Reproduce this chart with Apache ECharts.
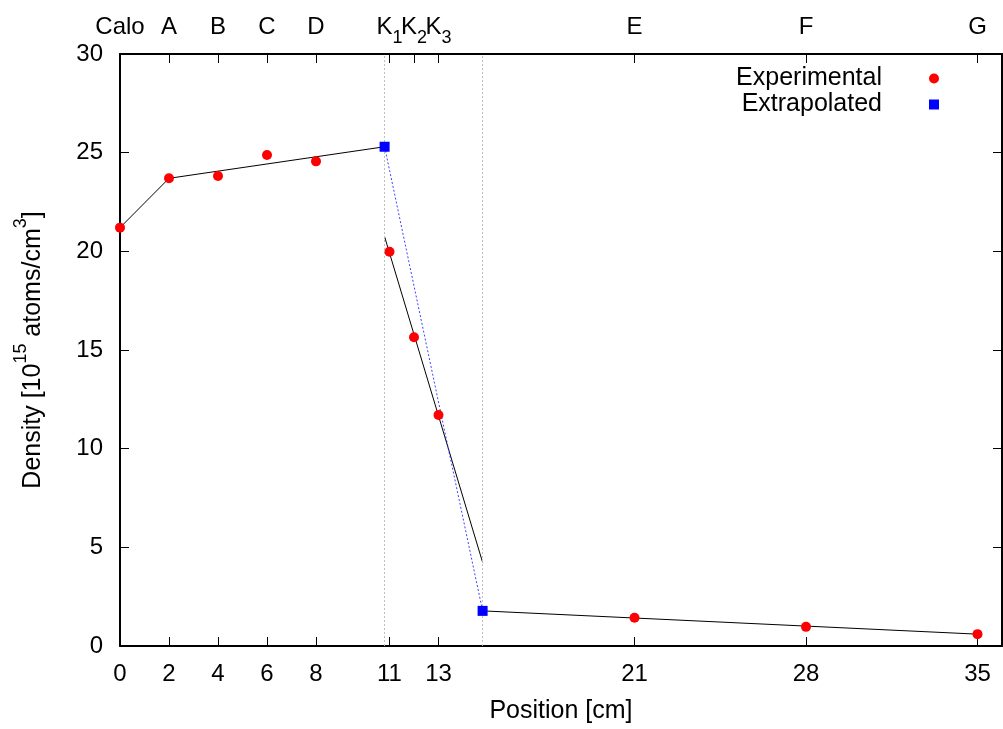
<!DOCTYPE html>
<html><head><meta charset="utf-8">
<script src="https://cdn.jsdelivr.net/npm/echarts@6/dist/echarts.min.js"></script>
<style>html,body{margin:0;padding:0;background:#fff}#c{width:1003px;height:729px}</style>
</head><body><div id="c"></div>
<script>
// ---- data ----
const expX = [0, 2, 4, 6, 8, 11, 12, 13, 21, 28, 35];
const expY = [21.2, 23.7, 23.82, 24.88, 24.56, 19.98, 15.65, 11.71, 1.43, 0.97, 0.6];
const extX = [10.8, 14.8];
const extY = [25.3, 1.78];
const upFitX = [0, 2, 10.8];
const upFitY = [21.2, 23.7, 25.3];
const kFitX = [10.8, 14.8];
const kFitY = [20.74, 4.24];
const downFitX = [14.8, 35];
const downFitY = [1.78, 0.6];
const guideX = [10.8, 14.8];
const bottomTicks = [0, 2, 4, 6, 8, 11, 13, 21, 28, 35];
const topTickValues = [0, 2, 4, 6, 8, 11, 12, 13, 21, 28, 35];
const topTickLabels = ['Calo', 'A', 'B', 'C', 'D', 'K_1', 'K_2', 'K_3', 'E', 'F', 'G'];
const topTickMarks = [2, 4, 6, 8, 11, 12, 13, 21, 28, 35];

const FONT = "'Liberation Sans', Arial, sans-serif";
const FS = 24;   // tick labels
const FT = 25;   // titles, legend
const pairs = (xs, ys) => xs.map((x, i) => [x, ys[i]]);

const chart = echarts.init(document.getElementById('c'), null, {renderer: 'canvas'});
const axisLine = {show: true, onZero: false, lineStyle: {color: '#000', width: 2}};
const tick = {show: true, inside: true, length: 9, lineStyle: {color: '#000', width: 1}};

chart.setOption({
  animation: false,
  backgroundColor: '#fff',
  textStyle: {fontFamily: FONT},
  grid: {left: 120, right: 1, top: 54, bottom: 80, containLabel: false},
  legend: [
    {data: [{name: 'Experimental', icon: 'circle'}], right: 64, top: 66, padding: 0,
     align: 'right', itemWidth: 10, itemHeight: 10, selectedMode: false,
     textStyle: {fontSize: FT, color: '#000', fontFamily: FONT, padding: [0, 42, 0, 0]}},
    {data: [{name: 'Extrapolated', icon: 'path://M0,0L10,0L10,10L0,10Z'}], right: 64, top: 92, padding: 0,
     align: 'right', itemWidth: 10, itemHeight: 10, selectedMode: false,
     textStyle: {fontSize: FT, color: '#000', fontFamily: FONT, padding: [0, 42, 0, 0]}}
  ],
  xAxis: [
    {type: 'value', position: 'bottom', min: 0, max: 36,
     name: 'Position [cm]', nameLocation: 'middle', nameGap: 53,
     nameTextStyle: {fontSize: FT, color: '#000', fontFamily: FONT},
     axisLine: axisLine,
     axisTick: Object.assign({customValues: bottomTicks}, tick),
     axisLabel: {customValues: bottomTicks, fontSize: FS, color: '#000', margin: 16, fontFamily: FONT},
     splitLine: {show: false}},
    {type: 'value', position: 'top', min: 0, max: 36,
     axisLine: axisLine,
     axisTick: Object.assign({customValues: topTickMarks}, tick),
     axisLabel: {customValues: topTickValues, margin: 7, color: '#000',
       formatter: function (v) {
         const idx = topTickValues.indexOf(v);
         const lab = idx >= 0 ? topTickLabels[idx] : '';
         const parts = lab.split('_');
         return parts.length > 1 ? '{n|' + parts[0] + '}{s|' + parts[1] + '}' : '{n|' + lab + '}';
       },
       rich: {
         n: {fontSize: FS, fontFamily: FONT, color: '#000', lineHeight: 40, verticalAlign: 'middle'},
         s: {fontSize: 18, fontFamily: FONT, color: '#000', lineHeight: 18, padding: [22, 0, 0, 0], verticalAlign: 'bottom'}
       }},
     splitLine: {show: false}}
  ],
  yAxis: [
    {type: 'value', position: 'left', min: 0, max: 30, interval: 5,
     name: '{n|Density [10}{s|15}{n| atoms/cm}{s|3}{n|]}', nameLocation: 'middle', nameGap: 65, nameRotate: 90,
     nameTextStyle: {rich: {
       n: {fontSize: FT, fontFamily: FONT, color: '#000', lineHeight: 43, verticalAlign: 'middle'},
       s: {fontSize: 18, fontFamily: FONT, color: '#000', lineHeight: 18, padding: [0, 0, 25, 0], verticalAlign: 'top'}
     }},
     axisLine: axisLine, axisTick: tick,
     axisLabel: {fontSize: FS, color: '#000', margin: 17, fontFamily: FONT},
     splitLine: {show: false}},
    {type: 'value', position: 'right', min: 0, max: 30, interval: 5,
     axisLine: axisLine, axisTick: tick, axisLabel: {show: false}, splitLine: {show: false}}
  ],
  series: [
    {name: 'guides', type: 'line', data: [], symbol: 'none', silent: true,
     markLine: {symbol: 'none', silent: true, label: {show: false},
       lineStyle: {color: '#bdbdbd', type: [2, 2], width: 1},
       data: guideX.map(v => ({xAxis: v}))}},
    {name: 'fitUp', type: 'line', data: pairs(upFitX, upFitY), symbol: 'none', silent: true,
     lineStyle: {color: '#000', width: 1}},
    {name: 'fitK', type: 'line', data: pairs(kFitX, kFitY), symbol: 'none', silent: true,
     lineStyle: {color: '#000', width: 1}},
    {name: 'fitDown', type: 'line', data: pairs(downFitX, downFitY), symbol: 'none', silent: true,
     lineStyle: {color: '#000', width: 1}},
    {name: 'extrapLine', type: 'line', data: pairs(extX, extY), symbol: 'none', silent: true,
     lineStyle: {color: 'rgba(30,30,255,0.85)', width: 1, type: [2, 2]}},
    {name: 'Experimental', type: 'scatter', data: pairs(expX, expY), symbol: 'circle', symbolSize: 10,
     itemStyle: {color: '#ff0000', opacity: 1}, z: 5},
    {name: 'Extrapolated', type: 'scatter', data: pairs(extX, extY), symbol: 'rect', symbolSize: 10,
     itemStyle: {color: '#0000ff', opacity: 1}, z: 5}
  ]
});
</script>
</body></html>
